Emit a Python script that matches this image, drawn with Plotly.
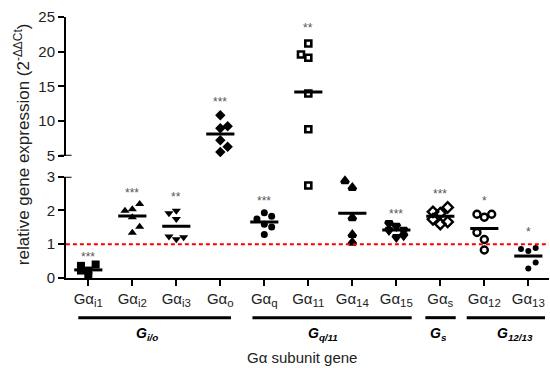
import plotly.graph_objects as go

# ---------------- data ----------------
gene_subs = ["i1", "i2", "i3", "o", "q", "11", "14", "15", "s", "12", "13"]

vals_i1 = [0.36, 0.22, 0.22, 0.06, 0.40]
cols_i1 = [-1, -1, 0, 0, 1]
vals_i2 = [1.99, 2.04, 2.19, 1.80, 1.52, 1.34]
cols_i2 = [-1, 0, 1, 0, 1, 0]
vals_i3 = [1.92, 1.99, 1.75, 1.23, 1.15, 1.21]
cols_i3 = [-1, 0, 0, -1, 0, 1]
vals_o = [10.84, 8.96, 9.25, 7.23, 6.30, 5.53]
cols_o = [0, 0, 1, 0, 1, 0]
vals_q = [1.75, 1.93, 1.83, 1.59, 1.51, 1.29]
cols_q = [-1, 0, 1, 0, 1, 0]
vals_11 = [21.18, 19.60, 19.12, 13.96, 8.82, 2.74]
cols_11 = [0, -1, 0, 0, 0, 0]
vals_14 = [2.87, 2.67, 1.78, 1.28, 1.05]
cols_14 = [-1, 0, 0, 0, 0]
vals_15 = [1.62, 1.42, 1.54, 1.21, 1.42, 1.26]
cols_15 = [-1, -1, 0, 0, 1, 1]
vals_s = [1.96, 1.92, 2.09, 1.74, 1.60, 1.66]
cols_s = [-1, 0, 1, -1, 0, 1]
vals_12 = [1.89, 1.80, 1.89, 1.35, 1.14, 0.83]
cols_12 = [-1, 0, 1, -1, 0, 0]
vals_13 = [0.86, 0.80, 0.89, 0.46, 0.28]
cols_13 = [-1, 0, 1, 1, 0]

means = [0.24, 1.84, 1.53, 8.14, 1.66, 14.2, 1.92, 1.42, 1.83, 1.47, 0.65]
stars = ["***", "***", "**", "***", "***", "**", "*", "***", "***", "*", "*"]
star_y = [0.71, 2.60, 2.49, 13.15, 2.37, 23.89, 3.39, 1.99, 2.57, 2.37, 1.46]

group_subs = ["i/o", "q/11", "s", "12/13"]
group_first = [0, 4, 8, 9]
group_last = [3, 7, 8, 10]

lower_ticks = [0, 1, 2, 3]
upper_ticks = [5, 10, 15, 20, 25]
reference_level = 1

# ---------------- style ----------------
FONT = "Liberation Sans, Arial, sans-serif"
genes = [f"Gα<sub><span style='font-size:11.5px'>{s}</span></sub>" for s in gene_subs]
groups = [f"<b><i>G<sub>{s}</sub></i></b>" for s in group_subs]

series = [
    (vals_i1, cols_i1, dict(symbol="square", size=8, color="black")),
    (vals_i2, cols_i2, dict(symbol="triangle-up", size=8, color="black")),
    (vals_i3, cols_i3, dict(symbol="triangle-down", size=8, color="black")),
    (vals_o, cols_o, dict(symbol="diamond", size=8, color="black")),
    (vals_q, cols_q, dict(symbol="circle", size=7, color="black")),
    (vals_11, cols_11, dict(symbol="square-open", size=6, color="black", line=dict(width=2.6, color="black"))),
    (vals_14, cols_14, dict(symbol="triangle-up-open", size=6, color="black", line=dict(width=3.5, color="black"))),
    (vals_15, cols_15, dict(symbol="triangle-down-open", size=6, color="black", line=dict(width=3.5, color="black"))),
    (vals_s, cols_s, dict(symbol="diamond-open", size=8, color="black", line=dict(width=2.4, color="black"))),
    (vals_12, cols_12, dict(symbol="circle-open", size=7, color="black", line=dict(width=2.4, color="black"))),
    (vals_13, cols_13, dict(symbol="circle", size=6, color="black")),
]
JIT = 0.167
BREAK = 4.0

fig = go.Figure()

for i, (vals, cols, mk) in enumerate(series):
    lo_x, lo_y, up_x, up_y = [], [], [], []
    for v, c in zip(vals, cols):
        if v < BREAK:
            lo_x.append(i + c * JIT); lo_y.append(v)
        else:
            up_x.append(i + c * JIT); up_y.append(v)
    if lo_x:
        fig.add_trace(go.Scatter(x=lo_x, y=lo_y, mode="markers", marker=mk,
                                 xaxis="x", yaxis="y", showlegend=False, cliponaxis=False))
    if up_x:
        fig.add_trace(go.Scatter(x=up_x, y=up_y, mode="markers", marker=mk,
                                 xaxis="x2", yaxis="y2", showlegend=False, cliponaxis=False))
    m = means[i]
    ya, xa = ("y", "x") if m < BREAK else ("y2", "x2")
    fig.add_trace(go.Scatter(x=[i - 0.32, i + 0.32], y=[m, m], mode="lines",
                             line=dict(color="black", width=3), xaxis=xa, yaxis=ya,
                             showlegend=False))

# reference line
fig.add_trace(go.Scatter(x=[-0.51, 10.47], y=[reference_level, reference_level], mode="lines",
                         line=dict(color="red", width=2, dash="4px,3px"),
                         xaxis="x", yaxis="y", showlegend=False))

annotations = []
for i, (s, sy) in enumerate(zip(stars, star_y)):
    annotations.append(dict(x=i, y=sy, xref="x" if sy < 4.5 else "x2",
                            yref="y" if sy < 4.5 else "y2", text=s, showarrow=False,
                            xanchor="center", yanchor="middle",
                            font=dict(family=FONT, size=12, color="#555"), yshift=-3))

grp_pad_l = [0.227, 0.27, 0.34, 0.40]
grp_pad_r = [0.243, 0.35, 0.35, 0.38]
grp_label_x = [1.33, 5.34, 7.96, 9.70]
shapes = []
for g, (a, b) in enumerate(zip(group_first, group_last)):
    shapes.append(dict(type="line", xref="x", yref="paper", x0=a - grp_pad_l[g], x1=b + grp_pad_r[g],
                       y0=-0.152, y1=-0.152, line=dict(color="black", width=3)))
    annotations.append(dict(x=grp_label_x[g], y=-0.215, xref="x", yref="paper", text=groups[g],
                            showarrow=False, font=dict(family=FONT, size=14, color="black"),
                            xanchor="center", yanchor="middle"))

# break ticks
shapes.append(dict(type="line", xref="paper", yref="y2", x0=-0.0135, x1=0.0115, y0=5, y1=5,
                   line=dict(color="black", width=2)))
shapes.append(dict(type="line", xref="paper", yref="y", x0=-0.0135, x1=0.0115, y0=3, y1=3,
                   line=dict(color="black", width=2)))

annotations.append(dict(x=0.488, y=-0.304, xref="paper", yref="paper", text="Gα subunit gene",
                        xanchor="center", yanchor="middle",
                        showarrow=False, font=dict(family=FONT, size=15, color="#222")))
annotations.append(dict(x=-0.091, y=0.513, xref="paper", yref="paper",
                        text="relative gene expression (2<sup>-ΔΔCt</sup>)", textangle=-90,
                        xanchor="center", yanchor="middle",
                        showarrow=False, font=dict(family=FONT, size=17, color="#222")))

xr = [-0.507, 10.47]
axis_common = dict(showgrid=False, zeroline=False, showline=True, linecolor="black", linewidth=2,
                   ticks="outside", ticklen=6, tickwidth=2, tickcolor="black",
                   tickfont=dict(family=FONT, size=15, color="#222"))
fig.update_layout(
    width=550, height=368, margin=dict(l=66, r=1, t=17, b=90, autoexpand=False),
    paper_bgcolor="white", plot_bgcolor="white", showlegend=False,
    xaxis=dict(range=xr, tickvals=list(range(len(genes))), ticktext=genes, anchor="y",
               automargin=False, **axis_common),
    xaxis2=dict(range=xr, anchor="y2", visible=False, matches="x"),
    yaxis=dict(domain=[0, 0.388], range=[0, 3], tickvals=lower_ticks, anchor="x",
               automargin=False, **axis_common),
    yaxis2=dict(domain=[0.4686, 1.0], range=[5, 25], tickvals=upper_ticks, anchor="x2",
                automargin=False, **axis_common),
    annotations=annotations, shapes=shapes,
)

fig.write_html("out.html", config={"displayModeBar": False},
               post_script="document.body.style.margin='0';document.body.style.padding='0';")
